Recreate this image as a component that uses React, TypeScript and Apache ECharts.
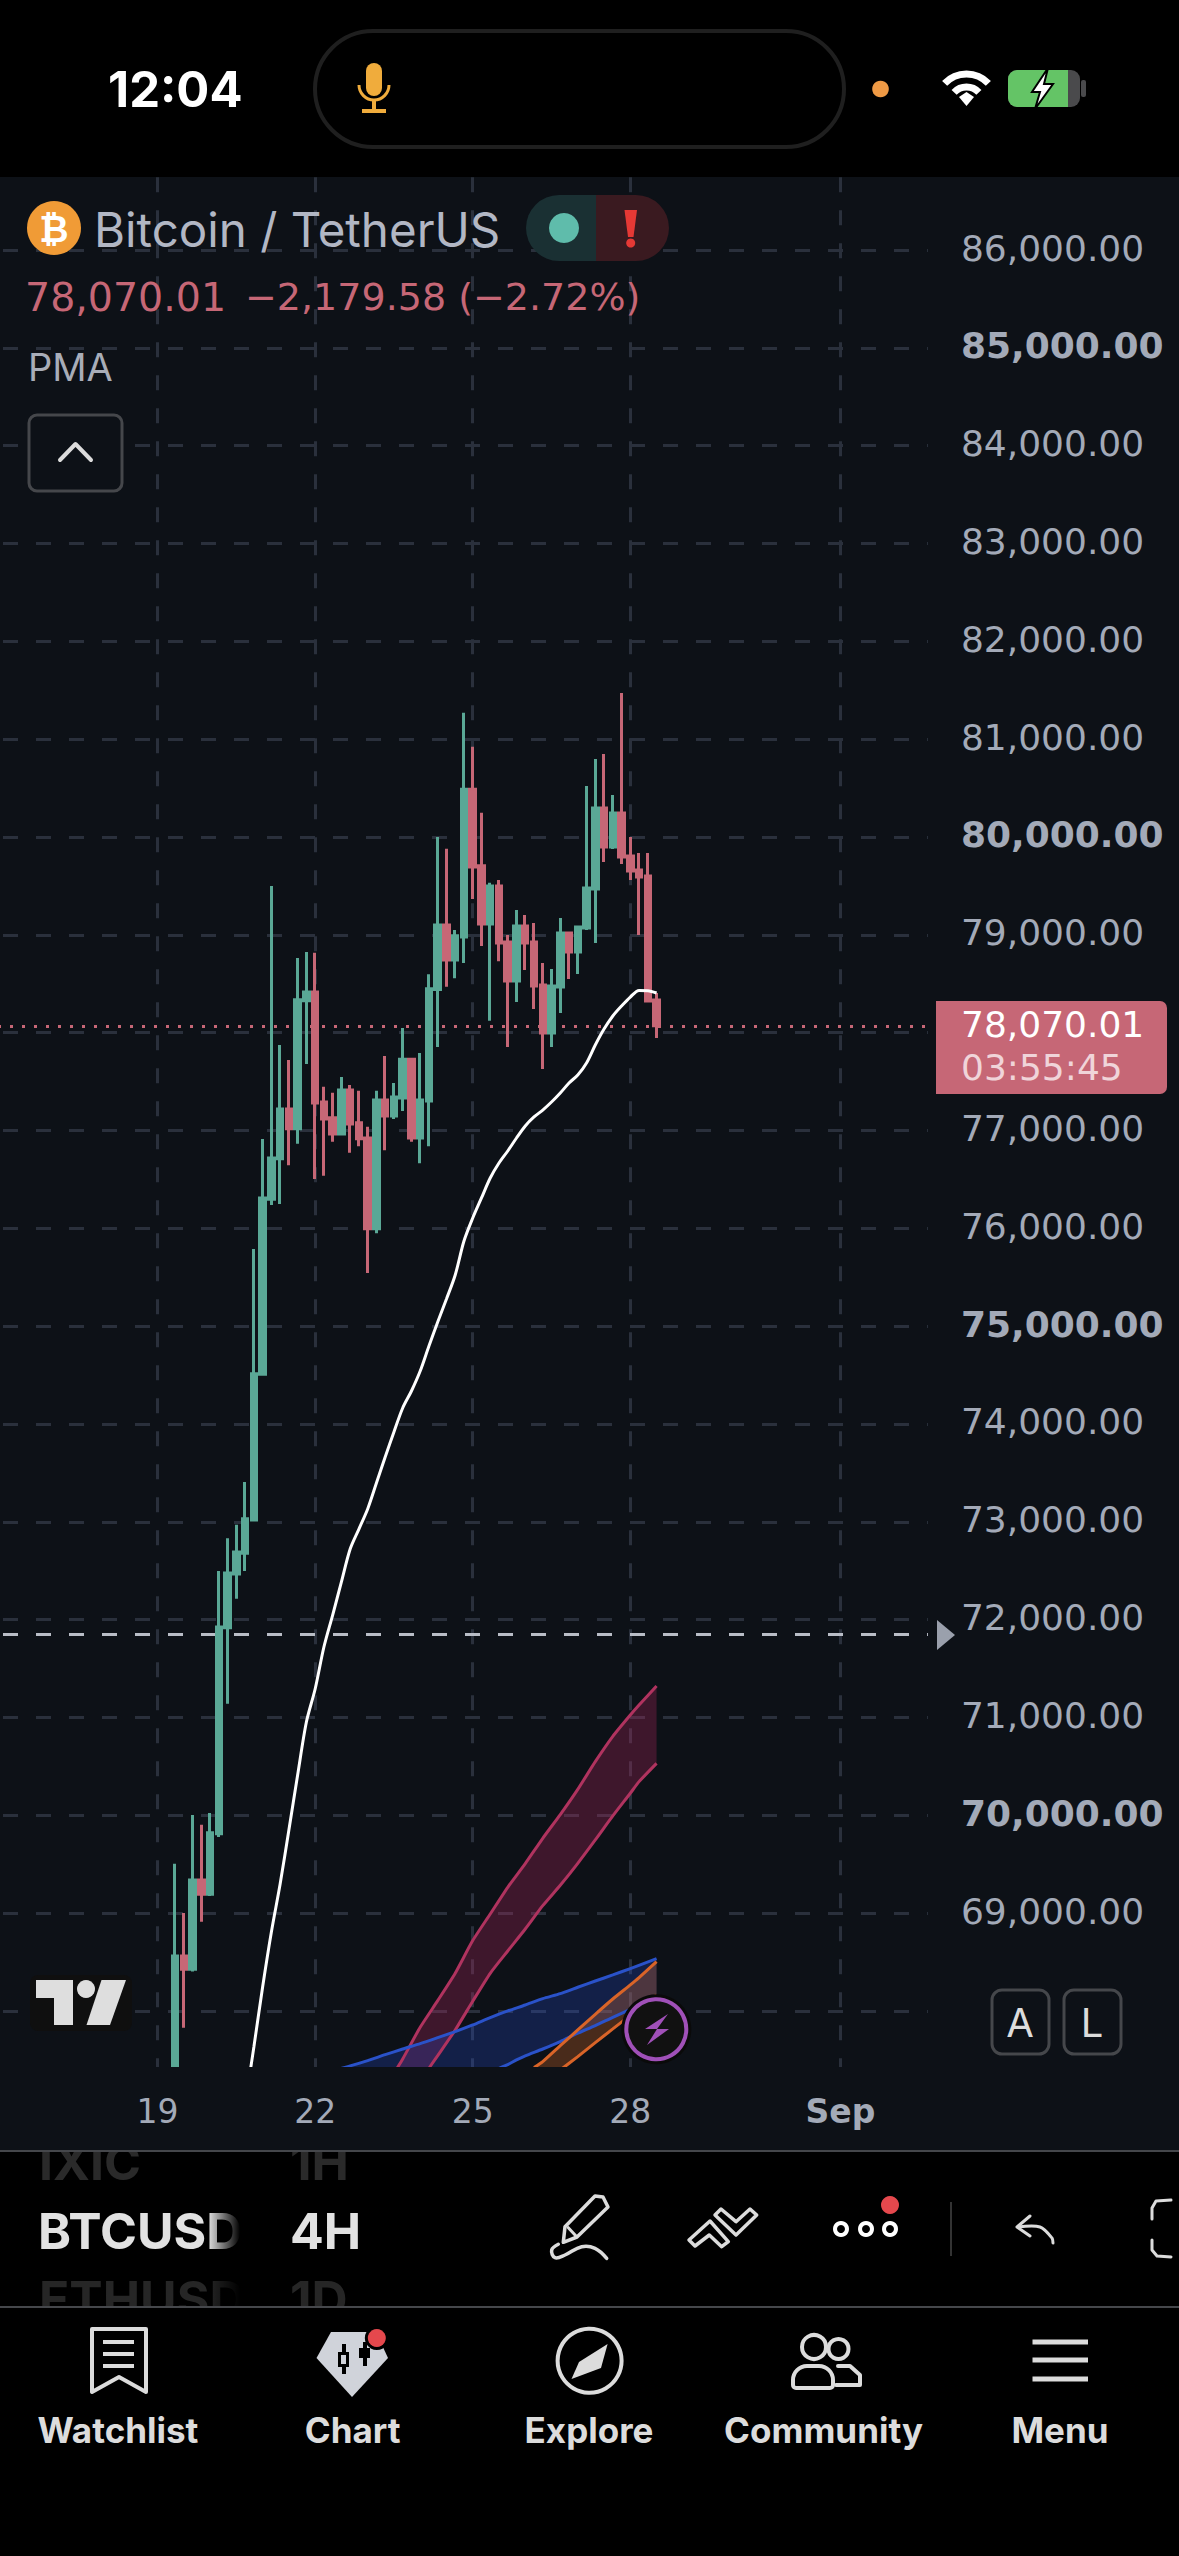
import React, { useEffect, useRef } from "react";
import * as echarts from "echarts";

const W = 1179, H = 2556;
const BG = "#0d1117", GRID = "#2a303c", UP = "#5aa896", DOWN = "#c66776", AXIS_TEXT = "#a3aab8", ICON = "#dcdcdc";
const F = "Inter, 'Noto Sans', sans-serif";
const NUM = "'DejaVu Sans', sans-serif";

// 4H bars, from 16 Aug 00:00 to 2 Sep 16:00
const barDays = ["Aug 16","Aug 17","Aug 18","Aug 19","Aug 20","Aug 21","Aug 22","Aug 23","Aug 24","Aug 25","Aug 26","Aug 27","Aug 28","Aug 29","Aug 30","Aug 31","Sep 1","Sep 2"];
const barHours = ["00:00","04:00","08:00","12:00","16:00","20:00"];
const categories = barDays.flatMap((d) => barHours.map((h) => d + " " + h)).slice(0, 107);
const tickCategories = ["Aug 19 00:00","Aug 22 00:00","Aug 25 00:00","Aug 28 00:00","Sep 1 00:00"];
const tickLabels = ["19","22","25","28","Sep"];
const firstCandle = categories.indexOf("Aug 19 08:00");

const opens = [67100,68562,68426,69339,69192,69810,71918,72466,72679,73019,74508,76298,76710,77219,77017,78327,78416,77292,77130,76965,77413,77078,76924,75995,77312,77147,77333,77729,76924,77300,78440,79099,78743,78978,80489,79705,79111,79499,78927,78528,79091,78927,78488,77997,78467,79019,78825,79070,79469,80297,79898,80246,79806,79663,79602,78334];
const closes = [68562,68426,69339,69192,69821,71924,72477,72690,73030,74513,76310,76718,77219,77017,78335,78416,77280,77118,76965,77413,77066,76916,75995,77312,77147,77341,77729,76924,77312,78448,79099,78743,78990,80489,79693,79111,79499,78917,78528,79091,78917,78477,77997,78477,79019,78825,79080,79479,80297,79898,80246,79796,79653,79591,78324,78070.01];
const lows = [67000,67828,68403,68912,69175,69777,71141,72214,72498,73019,74508,76237,76249,76645,76864,77680,76504,76536,76884,76953,76771,76839,75542,75950,76799,77118,77199,76884,76666,76839,77854,78468,78557,78711,79366,78885,78121,78731,77854,78314,78641,78242,77629,77854,78201,78549,78600,79050,78917,79745,79878,79724,79561,78999,78314,77946];
const highs = [69504,69000,70002,69903,70024,72498,72832,72969,73407,75788,76912,79499,77874,77721,78763,78824,78816,77446,77385,77547,77466,77405,77038,77405,77761,77486,78048,77741,77793,78598,80000,79879,79050,81270,80922,80247,79531,79560,78999,79254,79203,79121,78712,78651,79172,79029,79091,80522,80798,80849,80430,81472,80000,79837,79837,78406];

const pmaFirst = categories.indexOf("Aug 20 16:00");
const pma = [67039,67631,68245,68807,69297,69850,70412,70953,71291,71720,72047,72385,72722,72926,73131,73396,73662,73918,74163,74337,74541,74797,75042,75277,75523,75870,76105,76310,76514,76667,76790,76923,77046,77138,77209,77291,77383,77485,77567,77690,77874,78037,78170,78272,78364,78431,78429,78405];

const lastPrice = 78070.01;
const markerPrice = 71853;

// band edges: [candle number counted from the 19th, price]
const pinkUpper = [[26,67209],[27,67362],[28,67509],[30,67833],[32,68105],[34,68385],[36,68719],[38,68991],[40,69264],[42,69506],[44,69765],[46,70007],[48,70265],[50,70548],[52,70807],[54,71025],[55,71127],[57,71322]];
const pinkLower = [[30,67278],[31,67414],[32,67543],[34,67805],[36,68099],[38,68385],[40,68613],[42,68838],[44,69076],[46,69284],[48,69509],[50,69748],[52,69993],[54,70225],[55,70344],[57,70531]];
const blueUpper = [[20,67390],[22,67438],[24,67492],[26,67553],[28,67611],[30,67666],[32,67727],[34,67789],[36,67857],[38,67932],[40,68000],[42,68061],[44,68126],[46,68177],[48,68242],[50,68306],[52,68368],[54,68433],[57,68535]];
const blueLower = [[39,67414],[40,67451],[41,67499],[42,67540],[44,67611],[46,67687],[48,67772],[50,67850],[52,67935],[54,68017],[55,68061],[57,68140]];
const orangeUpper = [[43,67421],[44,67482],[46,67645],[48,67806],[50,67966],[52,68122],[54,68266],[55,68341],[57,68504]];
const orangeLower = [[46,67397],[48,67533],[50,67676],[52,67816],[54,67956],[55,68027],[57,68163]];

const boldPrices = [85000, 80000, 75000, 70000];
const hiddenPrices = [87000, 78000, 68000, 67000];

const PX_PER_PRICE = 97.83 / 1000;
const priceY = (p: number) => 250 + (86000 - p) * PX_PER_PRICE;
const BAR = 8.78;
const gridLeft = 155.3 - 18 * BAR;
const gridTop = priceY(87000);
const gridHeight = priceY(67000) - gridTop;
const gridWidth = BAR * (categories.length - 1);

const idx = (pts: number[][]) => pts.map(([j, v]) => [j + 18, v]);

const candleData = categories.map((_, i) => {
  const k = i - firstCandle;
  return k >= 0 && k < opens.length ? [opens[k], closes[k], lows[k], highs[k]] : ["-", "-", "-", "-"];
});
const pmaData = categories.map((_, i) => {
  const k = i - pmaFirst;
  return k >= 0 && k < pma.length ? pma[k] : "-";
});

function bandLine(name: string, pts: number[][], color: string) {
  return {
    type: "line", name, data: idx(pts), showSymbol: false, symbol: "none", smooth: 0.2, z: 3,
    lineStyle: { color, width: 3 }, silent: true,
  };
}
function bandFill(name: string, upper: number[][], lower: number[][], color: string) {
  const up = idx(upper), lo = idx(lower);
  return {
    type: "custom", name, data: [[up[0][0], up[0][1]]], z: 2, silent: true,
    encode: { x: 0, y: 1 },
    renderItem: (_p: any, api: any) => {
      const left = up.filter((p) => p[0] < lo[0][0]);
      const pts = [...up, ...[...lo].reverse(), ...left.reverse().map((p) => [p[0], 67000])].map((p) => api.coord(p));
      return { type: "polygon", shape: { points: pts }, style: { fill: color } };
    },
  };
}

const Z = 10;
const rect = (x: number, y: number, w: number, h: number, fill: string, extra: any = {}) => ({
  type: "rect", z: extra.z ?? Z + 1, shape: { x, y, width: w, height: h, r: extra.r ?? 0 },
  style: { fill, stroke: extra.stroke, lineWidth: extra.lineWidth }, silent: true,
});
const text = (t: string, x: number, y: number, size: number, fill: string, weight = 400, align = "left", family = F, z = Z + 1) => ({
  type: "text", z, silent: true,
  style: { text: t, x, y, fill, font: `${weight} ${size}px ${family}`, align, verticalAlign: "middle" },
});
const circle = (cx: number, cy: number, r: number, fill: any, stroke?: string, lineWidth?: number) => ({
  type: "circle", z: Z + 1, silent: true, shape: { cx, cy, r }, style: { fill, stroke, lineWidth },
});
const poly = (points: number[][], fill: string) => ({
  type: "polygon", z: Z + 1, silent: true, shape: { points }, style: { fill },
});
const stroke = (points: number[][], color: string, lineWidth: number, smooth = 0) => ({
  type: "polyline", z: Z + 1, silent: true, shape: { points, smooth },
  style: { stroke: color, lineWidth, fill: null, lineCap: "round", lineJoin: "round" },
});
const outline = (points: number[][], color: string, lineWidth: number) => ({
  type: "polygon", z: Z + 1, silent: true, shape: { points },
  style: { stroke: color, lineWidth, fill: "none", lineJoin: "round" },
});
const arc = (cx: number, cy: number, r: number, a0: number, a1: number, color: string, lineWidth: number) => ({
  type: "arc", z: Z + 1, silent: true, shape: { cx, cy, r, startAngle: a0, endAngle: a1, clockwise: true },
  style: { stroke: color, lineWidth, fill: null },
});
const fade = (x: number, y: number, w: number, h: number) => ({
  type: "rect", z: Z + 2, silent: true, shape: { x, y, width: w, height: h },
  style: { fill: { type: "linear", x: 0, y: 0, x2: 1, y2: 0, colorStops: [{ offset: 0, color: "rgba(0,0,0,0)" }, { offset: 1, color: "rgba(0,0,0,1)" }] } },
});

function buildGraphics() {
  const els: any[] = [];
  // masks round the plot and the picker strip
  els.push(rect(0, 0, W, 177, "#000", { z: Z - 2 }));
  els.push(rect(0, 2151, W, 156, "#000", { z: Z - 2 }));
  els.push(text("IXIC", 39, 2162, 50, "#2a2a2a", 700, "left", F, Z - 1));
  els.push(text("1H", 290, 2162, 50, "#2a2a2a", 700, "left", F, Z - 1));
  els.push(text("BTCUSD", 38, 2231, 50, "#e2e2e2", 700, "left", F, Z - 1));
  els.push(text("4H", 290, 2231, 50, "#e2e2e2", 700, "left", F, Z - 1));
  els.push(text("ETHUSD", 39, 2299, 50, "#262626", 700, "left", F, Z - 1));
  els.push(text("1D", 290, 2299, 50, "#262626", 700, "left", F, Z - 1));
  els.push(fade(208, 2190, 32, 130));
  els.push(rect(240, 2152, 48, 154, "#000", { z: Z + 2 }));
  els.push(rect(0, 2067, W, 84, BG, { z: Z }));
  els.push(rect(0, 2307, W, H - 2307, "#000", { z: Z }));
  els.push(rect(0, 2150, W, 2, "#45474b", { z: Z + 3 }));
  els.push(rect(0, 2306, W, 2, "#45474b", { z: Z + 3 }));

  // status bar
  els.push(text("12:04", 108, 89, 49, "#fff", 700));
  els.push(rect(315, 31, 529, 116, "#000", { r: 58, stroke: "#1f1f1f", lineWidth: 4 }));
  els.push(rect(366, 63, 16, 33, "#f0ac3c", { r: 8 }));
  els.push(arc(374, 85, 15, 0, Math.PI, "#f0ac3c", 3));
  els.push(rect(372, 100, 4, 10, "#f0ac3c"));
  els.push(rect(362, 109, 24, 4, "#f0ac3c"));
  els.push(circle(880.5, 89, 8.3, "#ef9a45"));
  els.push(arc(966.5, 104, 30, -Math.PI * 0.76, -Math.PI * 0.24, "#fff", 7));
  els.push(arc(966.5, 104, 17, -Math.PI * 0.76, -Math.PI * 0.24, "#fff", 7));
  els.push(poly([[959, 97], [966.5, 92], [974, 97], [966.5, 106]], "#fff"));
  els.push(rect(1008, 70, 72, 37, "#4a4a4c", { r: 9 }));
  els.push(rect(1008, 70, 60, 37, "#64c466", { r: [9, 0, 0, 9] }));
  els.push(rect(1081, 80, 5, 17, "#4a4a4c", { r: 2 }));
  els.push({ ...poly([[1048, 68], [1032, 92], [1040, 92], [1035, 109], [1053, 84], [1044, 84]], "#fff"), style: { fill: "#fff", stroke: "#000", lineWidth: 2 } });

  // header
  els.push(circle(54, 228, 27, "#f09b36"));
  els.push(text("₿", 54, 229, 36, "#fff", 700, "center", NUM));
  els.push(text("Bitcoin / TetherUS", 94, 229, 47.5, "#b2b7c4"));
  els.push(rect(526, 195, 72, 66, "#1a3033", { r: [33, 0, 0, 33] }));
  els.push(rect(596, 195, 73, 66, "#3a1a20", { r: [0, 33, 33, 0] }));
  els.push(circle(564, 228, 15, "#5fbcab"));
  els.push(poly([[624.5, 210], [637, 210], [633.5, 237], [628, 237]], "#e53935"));
  els.push(circle(630.7, 243, 4.5, "#e53935"));
  els.push(text("78,070.01", 25, 297, 39.5, DOWN, 400, "left", NUM));
  els.push(text("−2,179.58 (−2.72%)", 245, 297, 38, DOWN, 400, "left", NUM));
  els.push(text("PMA", 28, 367, 38, "#a8adb8"));
  els.push(rect(29, 415, 93, 76, BG, { r: 8, stroke: "#45474b", lineWidth: 3 }));
  els.push(stroke([[60, 460], [75.5, 444], [91, 460]], ICON, 4));

  // price tag
  els.push(rect(936, 1001, 231, 93, "#c66776", { r: [0, 7, 7, 0] }));
  els.push(text("78,070.01", 961, 1024, 36, "#fff", 400, "left", NUM));
  els.push(text("03:55:45", 961, 1067, 36, "#f0d4d9", 400, "left", NUM));
  els.push(poly([[937, 1620], [955, 1635], [937, 1650]], "#9aa0ac"));

  // logo
  els.push(rect(30, 1975, 102, 56, "#0f0f0f", { r: 8 }));
  els.push(poly([[36, 1980], [73, 1980], [73, 2025], [54, 2025], [54, 1998], [36, 1998]], "#dedede"));
  els.push(circle(86, 1989, 9, "#dedede"));
  els.push(poly([[101.5, 1980], [126, 1980], [110, 2025], [86.5, 2025]], "#dedede"));

  // lightning
  els.push(circle(656.3, 2029.3, 35, "#0a0a0a"));
  els.push(circle(656.3, 2029.3, 30, "#111", "#a050b8", 4));
  els.push(poly([[668, 2014], [645, 2029], [657, 2029], [647, 2045], [669, 2029], [657, 2029]], "#a050b8"));

  // A / L
  els.push(rect(992, 1990, 57, 64, BG, { r: 10, stroke: "#45474b", lineWidth: 3 }));
  els.push(rect(1064, 1990, 57, 64, BG, { r: 10, stroke: "#45474b", lineWidth: 3 }));
  els.push(text("A", 1020, 2022, 40, ICON, 400, "center"));
  els.push(text("L", 1092, 2022, 40, ICON, 400, "center"));

  // toolbar
  els.push(outline([[595, 2196], [603, 2197], [608, 2207], [577, 2237], [563.3, 2242.3], [565, 2226.7]], ICON, 3.5));
  els.push(stroke([[568.3, 2227.7], [576.7, 2236.7]], ICON, 3));
  els.push(stroke([[558.3, 2244.3], [551.7, 2250], [555, 2257.7], [565, 2255], [581.7, 2246.7], [595, 2248.3], [606.7, 2258.3]], ICON, 3.5, 0.4));
  els.push(outline([[710, 2221], [728.3, 2241.7], [721.7, 2246.7], [709.3, 2235], [695, 2246], [689, 2240]], ICON, 3.5));
  els.push(outline([[715, 2215], [721, 2209], [736, 2221.7], [750, 2209], [756.7, 2215], [736, 2235]], ICON, 3.5));
  [841, 866, 890].forEach((x) => els.push(circle(x, 2229, 6, "#000", "#fff", 4)));
  els.push(circle(890, 2205, 9, "#e5484d"));
  els.push(rect(950, 2202, 2, 54, "#333"));
  els.push(stroke([[1030, 2216], [1017, 2227], [1030, 2236]], ICON, 3));
  els.push(stroke([[1018, 2227], [1040, 2227], [1052, 2238], [1053, 2243]], ICON, 3, 0.3));
  els.push(stroke([[1171, 2200], [1156, 2201], [1152, 2208], [1152, 2219]], ICON, 3));
  els.push(stroke([[1152, 2240], [1152, 2250], [1157, 2256], [1171, 2257]], ICON, 3));

  // tab bar
  els.push(outline([[92, 2329], [146, 2329], [146, 2392], [119, 2377], [92, 2392]], ICON, 4));
  [2342, 2354, 2366].forEach((y) => els.push(rect(103, y - 2, 31, 4, ICON)));
  els.push(poly([[331, 2332], [376, 2332], [388, 2358], [352, 2397], [316.5, 2358]], "#d0d3da"));
  els.push(rect(342, 2344, 4, 30, "#000"));
  els.push(rect(338, 2352, 11, 15, "#000"));
  els.push(rect(341, 2355, 5, 9, "#d0d3da"));
  els.push(rect(363, 2342, 4, 24, "#000"));
  els.push(rect(359, 2348, 11, 10, "#000"));
  els.push(circle(376.8, 2338, 12, "#000"));
  els.push(circle(376.8, 2338, 9, "#e5484d"));
  els.push(circle(589.6, 2360.7, 32, "none", ICON, 4));
  els.push(poly([[607.6, 2344], [601, 2368], [571.5, 2379], [579, 2362]], ICON));
  els.push(circle(814, 2347, 12, "none", ICON, 4));
  els.push(circle(838.5, 2349, 10, "none", ICON, 4));
  els.push(rect(793, 2366, 40, 22, "none", { r: [14, 14, 3, 3], stroke: ICON, lineWidth: 4 }));
  els.push(stroke([[838, 2366], [850, 2366], [860, 2375], [860, 2385], [836, 2385]], ICON, 4));
  [2342, 2360, 2379].forEach((y) => els.push(rect(1032.5, y - 2.4, 55.5, 4.8, ICON)));
  const tabs: [string, number][] = [["Watchlist", 118], ["Chart", 352.7], ["Explore", 589], ["Community", 823.6], ["Menu", 1060]];
  tabs.forEach(([t, x]) => els.push(text(t, x, 2430, 35, ICON, 700, "center")));
  return els;
}

export default function App() {
  const ref = useRef<HTMLDivElement>(null);
  useEffect(() => {
    document.body.style.margin = "0";
    document.body.style.background = "#000";
    const chart = echarts.init(ref.current!, undefined, { renderer: "svg" });
    const isTick = (_: number, v: string) => tickCategories.includes(v);
    chart.setOption({
      animation: false,
      backgroundColor: BG,
      grid: { left: gridLeft, top: gridTop, width: gridWidth, height: gridHeight, containLabel: false, show: false },
      xAxis: [
        {
          type: "category", data: categories, boundaryGap: false, position: "bottom",
          axisLine: { show: false }, axisTick: { show: false }, axisLabel: { show: false },
          splitLine: { show: true, interval: isTick, lineStyle: { color: GRID, width: 3, type: [15, 18], dashOffset: 8.2 } },
        },
        {
          type: "category", data: categories, boundaryGap: false, position: "bottom", z: Z + 3,
          axisLine: { show: false }, axisTick: { show: false }, splitLine: { show: false },
          axisLabel: {
            show: true, interval: isTick, margin: 3, verticalAlign: "middle", color: AXIS_TEXT,
            fontFamily: NUM, fontSize: 33,
            formatter: (v: string) => {
              const t = tickLabels[tickCategories.indexOf(v)];
              return t === "Sep" ? "{b|Sep}" : t;
            },
            rich: { b: { fontFamily: NUM, fontSize: 33, fontWeight: 700, color: AXIS_TEXT } },
          },
        },
      ],
      yAxis: {
        type: "value", min: 67000, max: 87000, interval: 1000, position: "right",
        axisLine: { show: false }, axisTick: { show: false },
        splitLine: { show: true, lineStyle: { color: GRID, width: 3, type: [15, 18], dashOffset: 30.26 } },
        axisLabel: {
          margin: 33, padding: [0, 0, 4, 0], color: AXIS_TEXT, fontFamily: NUM, fontSize: 36, align: "left",
          formatter: (v: number) => {
            if (hiddenPrices.includes(v)) return "";
            const s = v.toLocaleString("en-US", { minimumFractionDigits: 2, maximumFractionDigits: 2 });
            return boldPrices.includes(v) ? `{b|${s}}` : s;
          },
          rich: { b: { fontFamily: NUM, fontSize: 36, fontWeight: 700, color: AXIS_TEXT } },
        },
      },
      graphic: { elements: buildGraphics() },
      series: [
        bandFill("pink", pinkUpper, pinkLower, "rgba(190,40,100,0.28)"),
        bandFill("blue", blueUpper, blueLower, "rgba(40,80,220,0.25)"),
        bandFill("orange", orangeUpper, orangeLower, "rgba(230,110,40,0.28)"),
        bandLine("pinkU", pinkUpper, "#b0335f"),
        bandLine("pinkL", pinkLower, "#b0335f"),
        bandLine("blueU", blueUpper, "#2a52c9"),
        bandLine("blueL", blueLower, "#2a52c9"),
        bandLine("orangeU", orangeUpper, "#d96428"),
        bandLine("orangeL", orangeLower, "#d96428"),
        {
          type: "candlestick", name: "BTCUSDT", data: candleData, barWidth: 6, z: 4, silent: true,
          itemStyle: { color: UP, color0: DOWN, borderColor: UP, borderColor0: DOWN, borderWidth: 3 },
          markLine: {
            silent: true, symbol: "none", z: 1, label: { show: false },
            data: [
              { yAxis: lastPrice, lineStyle: { color: DOWN, width: 3, type: [3, 9], dashOffset: 2 } },
              { yAxis: markerPrice, lineStyle: { color: "#b9bdc6", width: 3, type: [15, 18], dashOffset: 30.26 } },
            ],
          },
        },
        {
          type: "line", name: "PMA", data: pmaData, showSymbol: false, symbol: "none", smooth: 0.3, z: 5, silent: true,
          lineStyle: { color: "#fff", width: 3 },
        },
      ],
    });
    return () => chart.dispose();
  }, []);
  return <div ref={ref} style={{ width: W, height: H }} />;
}
